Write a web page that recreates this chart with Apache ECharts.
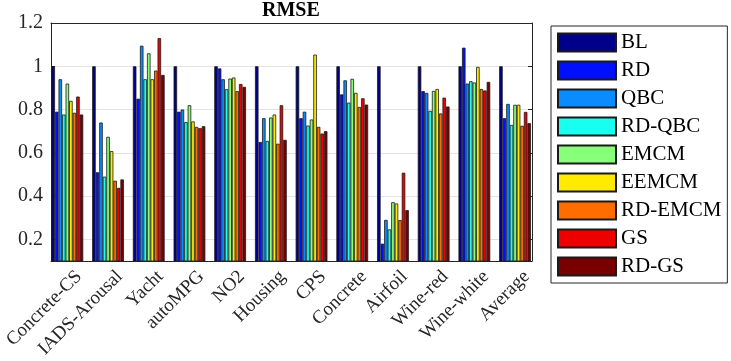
<!DOCTYPE html>
<html>
<head>
<meta charset="utf-8">
<script src="https://cdn.jsdelivr.net/npm/echarts@6/dist/echarts.min.js"></script>
<style>
  html, body { margin: 0; padding: 0; background: #fff; }
  #main { width: 731px; height: 361px; }
</style>
</head>
<body>
<div id="main"></div>
<script>
// datasets on the x axis
const categories = ['Concrete-CS', 'IADS-Arousal', 'Yacht', 'autoMPG', 'NO2', 'Housing',
  'CPS', 'Concrete', 'Airfoil', 'Wine-red', 'Wine-white', 'Average'];

// RMSE per method
const BL      = [1.00, 1.00, 1.00, 1.00, 1.00, 1.00, 1.00, 1.00, 1.00, 1.00, 1.00, 1.00];
const RD      = [0.79, 0.51, 0.85, 0.79, 0.99, 0.65, 0.76, 0.87, 0.18, 0.885, 1.086, 0.76];
const QBC     = [0.94, 0.74, 1.095, 0.80, 0.94, 0.76, 0.79, 0.935, 0.29, 0.877, 0.92, 0.826];
const RD_QBC  = [0.777, 0.49, 0.94, 0.742, 0.894, 0.655, 0.726, 0.832, 0.246, 0.794, 0.931, 0.729];
const EMCM    = [0.92, 0.674, 1.06, 0.82, 0.943, 0.763, 0.754, 0.942, 0.372, 0.886, 0.925, 0.822];
const EEMCM   = [0.84, 0.608, 0.94, 0.745, 0.948, 0.777, 1.054, 0.877, 0.366, 0.895, 0.997, 0.822];
const RD_EMCM = [0.785, 0.471, 0.98, 0.72, 0.885, 0.642, 0.72, 0.812, 0.289, 0.782, 0.895, 0.725];
const GS      = [0.86, 0.438, 1.13, 0.714, 0.918, 0.82, 0.689, 0.852, 0.508, 0.855, 0.888, 0.789];
const RD_GS   = [0.777, 0.477, 0.96, 0.723, 0.905, 0.66, 0.70, 0.823, 0.335, 0.814, 0.928, 0.737];

const methodNames = ['BL', 'RD', 'QBC', 'RD-QBC', 'EMCM', 'EEMCM', 'RD-EMCM', 'GS', 'RD-GS'];
const methodData = [BL, RD, QBC, RD_QBC, EMCM, EEMCM, RD_EMCM, GS, RD_GS];
const colors = ['#00008a', '#0010ff', '#0a8cff', '#18fff0', '#88ff78', '#ffeb00', '#ff6c00', '#ee0000', '#780000'];

const yTicks = [0.2, 0.4, 0.6, 0.8, 1, 1.2];

const font = "'Liberation Serif', 'DejaVu Serif', serif";
const axisColor = '#262626';

let myChart = echarts.init(document.getElementById('main'));

let series = methodNames.map((name, i) => ({
  name: name,
  type: 'bar',
  xAxisIndex: 0,
  yAxisIndex: 0,
  data: methodData[i],
  barGap: 0,
  barCategoryGap: '22%',
  itemStyle: {
    color: colors[i],
    borderColor: '#1a1a1a',
    borderWidth: 0.8
  }
}));

// grid 0 holds the bars (categories run a bit past the frame like matlab's xlim),
// grid 1 is the axes box with y labels, ticks and grid lines
let option = {
  animation: false,
  title: {
    text: 'RMSE',
    left: 262,
    top: 1,
    padding: 0,
    textStyle: { fontFamily: font, fontWeight: 'bold', fontSize: 20, color: '#000' }
  },
  grid: [
    { left: 47, right: 195.6, top: 23, bottom: 100, outerBoundsMode: 'none' },
    { left: 51, right: 199, top: 23, bottom: 100, outerBoundsMode: 'none' }
  ],
  legend: {
    orient: 'vertical',
    left: 551,
    top: 26,
    padding: [6, 6, 6, 6],
    itemWidth: 58,
    itemHeight: 18,
    itemGap: 7,
    borderColor: '#262626',
    borderWidth: 1,
    icon: 'rect',
    data: methodNames,
    textStyle: { fontFamily: font, fontSize: 21, color: '#000' }
  },
  xAxis: [
    {
      type: 'category',
      gridIndex: 0,
      data: categories,
      position: 'bottom',
      axisLine: { show: false },
      axisTick: { inside: true, alignWithLabel: true, length: 4, lineStyle: { color: axisColor } },
      axisLabel: {
        rotate: 45,
        interval: 0,
        margin: 1,
        verticalAlign: 'top',
        padding: [7, 0, 0, 0],
        fontFamily: font,
        fontSize: 19,
        color: axisColor
      }
    },
    {
      type: 'category',
      gridIndex: 0,
      data: categories,
      position: 'top',
      axisLine: { show: false },
      axisTick: { inside: true, alignWithLabel: true, length: 4, lineStyle: { color: axisColor } },
      axisLabel: { show: false }
    },
    {
      type: 'value',
      gridIndex: 1,
      position: 'bottom',
      axisLine: { show: true, onZero: false, lineStyle: { color: axisColor } },
      axisTick: { show: false },
      axisLabel: { show: false },
      splitLine: { show: false }
    },
    {
      type: 'value',
      gridIndex: 1,
      position: 'top',
      axisLine: { show: true, onZero: false, lineStyle: { color: axisColor } },
      axisTick: { show: false },
      axisLabel: { show: false },
      splitLine: { show: false }
    }
  ],
  yAxis: [
    {
      type: 'value',
      gridIndex: 0,
      min: 0.1,
      max: 1.2,
      show: false
    },
    {
      type: 'value',
      gridIndex: 1,
      min: 0.1,
      max: 1.2,
      position: 'left',
      axisLine: { show: true, onZero: false, lineStyle: { color: axisColor } },
      axisTick: { show: true, inside: true, length: 4, customValues: yTicks, lineStyle: { color: axisColor } },
      axisLabel: { customValues: yTicks, margin: 8, fontFamily: font, fontSize: 20, color: axisColor },
      splitLine: { show: true, lineStyle: { color: '#e3e3e3', width: 1 } }
    },
    {
      type: 'value',
      gridIndex: 1,
      min: 0.1,
      max: 1.2,
      position: 'right',
      axisLine: { show: true, onZero: false, lineStyle: { color: axisColor } },
      axisTick: { show: true, inside: true, length: 4, customValues: yTicks, lineStyle: { color: axisColor } },
      axisLabel: { show: false },
      splitLine: { show: false }
    }
  ],
  series: series
};

myChart.setOption(option);
</script>
</body>
</html>
